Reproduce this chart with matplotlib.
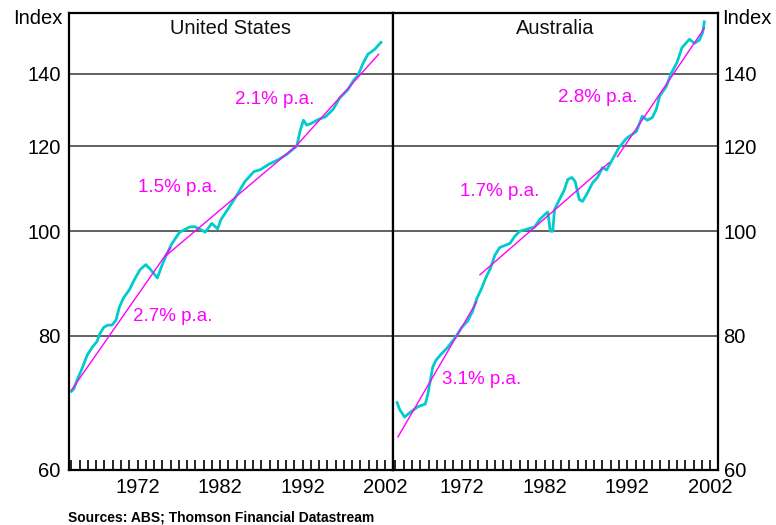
import numpy as np
import matplotlib
matplotlib.use("Agg")
import matplotlib.pyplot as plt
from matplotlib.ticker import FixedLocator, NullLocator, NullFormatter

plt.rcParams['font.family'] = ['Liberation Sans', 'DejaVu Sans']

# --- data (index, log scale) ---
us_year = [1964.0, 1964.3, 1964.7, 1965.3, 1965.9, 1966.5, 1967.1, 1967.4, 1967.9,
           1968.4, 1968.9, 1969.4, 1969.8, 1970.3, 1971.0, 1971.6, 1972.3, 1973.0,
           1973.6, 1974.4, 1974.9, 1975.4, 1976.1, 1977.1, 1978.3, 1978.9, 1979.5,
           1980.2, 1981.0, 1981.7, 1982.1, 1982.9, 1983.7, 1984.3, 1985.0, 1986.1,
           1986.9, 1987.9, 1989.1, 1990.1, 1990.5, 1991.3, 1991.7, 1992.1, 1992.5,
           1993.0, 1993.9, 1994.8, 1995.7, 1996.5, 1997.5, 1998.2, 1998.7, 1999.3,
           1999.9, 2000.7, 2001.5]
us_index = [71.0, 71.4, 72.8, 74.6, 76.7, 78.0, 79.0, 80.2, 81.4,
            81.8, 81.8, 82.7, 85.0, 86.7, 88.2, 90.1, 92.1, 93.1,
            92.1, 90.5, 92.7, 94.7, 97.2, 99.8, 100.9, 101.0, 100.5,
            99.8, 101.7, 100.5, 102.5, 104.7, 107.0, 108.9, 111.2, 113.6,
            114.1, 115.4, 116.6, 117.9, 118.6, 120.0, 124.0, 126.8, 125.5,
            125.9, 127.0, 127.8, 129.8, 133.0, 135.4, 138.2, 139.5, 143.1,
            146.0, 147.5, 149.8]

au_year = [1964.2, 1964.5, 1965.1, 1965.7, 1966.7, 1967.6, 1967.9, 1968.2, 1968.5,
           1968.9, 1969.4, 1970.3, 1971.2, 1972.0, 1972.7, 1973.3, 1973.8, 1974.4,
           1974.9, 1975.5, 1976.0, 1976.6, 1977.8, 1978.4, 1979.0, 1980.0, 1980.8,
           1981.4, 1982.0, 1982.4, 1982.7, 1983.0, 1983.2, 1983.8, 1984.4, 1984.8,
           1985.3, 1985.7, 1986.2, 1986.6, 1987.2, 1987.8, 1988.4, 1989.0, 1989.5,
           1990.2, 1991.0, 1991.9, 1993.1, 1993.8, 1994.4, 1995.0, 1995.5, 1995.9,
           1996.7, 1997.3, 1998.0, 1998.6, 1999.5, 2000.1, 2000.7, 2001.1, 2001.3]
au_index = [69.3, 68.3, 67.2, 67.8, 68.7, 69.1, 70.5, 72.6, 74.8,
            75.9, 76.7, 78.0, 79.6, 81.4, 82.5, 84.2, 86.5, 88.5,
            90.5, 92.5, 95.0, 96.6, 97.4, 98.9, 100.0, 100.5, 100.9,
            102.5, 103.6, 104.2, 100.0, 100.0, 104.7, 107.0, 109.3, 111.7,
            112.2, 111.2, 107.0, 106.6, 108.6, 110.9, 112.2, 114.6, 114.0,
            116.6, 119.6, 122.0, 123.8, 127.9, 126.8, 127.5, 129.8, 133.5,
            136.3, 140.2, 143.5, 148.1, 150.8, 149.5, 150.5, 153.0, 156.5]

# trend segments: (start year, end year, start index, end index)
us_trends = [(1964.0, 1976.0, 71.2, 96.5),
             (1975.3, 1991.2, 94.7, 120.0),
             (1991.0, 2001.2, 119.5, 146.0)]
au_trends = [(1964.3, 1973.8, 64.4, 86.0),
             (1974.2, 1989.8, 91.1, 115.8),
             (1990.8, 2001.3, 117.3, 154.4)]

# growth labels: (text, year, index)
us_labels = [("2.7% p.a.", 1971.4, 83.3), ("1.5% p.a.", 1972.1, 109.7),
             ("2.1% p.a.", 1983.8, 132.6)]
au_labels = [("3.1% p.a.", 1969.6, 72.8), ("1.7% p.a.", 1971.8, 108.8),
             ("2.8% p.a.", 1983.6, 133.1)]

grid_levels = [80, 100, 120, 140]
y_ticks = [60, 80, 100, 120, 140]
x_major = [1972, 1982, 1992, 2002]
x_minor = list(range(1964, 2003))

CYAN = "#00CCCC"
MAGENTA = "#FF00FF"

fig = plt.figure(figsize=(7.76, 5.25), dpi=100)
W, H = 776, 525
ax1 = fig.add_axes([69 / W, 1 - 470 / H, 324 / W, 457 / H])
ax2 = fig.add_axes([393 / W, 1 - 470 / H, 325 / W, 457 / H])

panels = [(ax1, "United States", us_year, us_index, us_trends, us_labels),
          (ax2, "Australia", au_year, au_index, au_trends, au_labels)]

for ax, title, yrs, vals, trends, labels in panels:
    ax.set_yscale("log")
    ax.set_xlim(1963.7, 2002.95)
    ax.set_ylim(60, 159.5)
    for g in grid_levels:
        ax.axhline(g, color="#555555", lw=1.3, zorder=1)
    ax.plot(yrs, vals, color=CYAN, lw=2.0, zorder=2)
    for x0, x1, y0, y1 in trends:
        ax.plot([x0, x1], [y0, y1], color=MAGENTA, lw=1.0, zorder=3)
    for txt, x, y in labels:
        ax.text(x, y, txt, color=MAGENTA, fontsize=13.5, va="center", ha="left")
    ax.text(0.5, 0.967, title, transform=ax.transAxes, ha="center", va="center",
            fontsize=14.5, color="#111111")

    ax.yaxis.set_major_locator(FixedLocator(y_ticks))
    ax.yaxis.set_major_formatter(matplotlib.ticker.FixedFormatter([str(t) for t in y_ticks]))
    ax.yaxis.set_minor_locator(NullLocator())
    ax.yaxis.set_minor_formatter(NullFormatter())
    ax.tick_params(axis="y", which="both", length=0, labelsize=14.5, pad=6)

    ax.xaxis.set_major_locator(FixedLocator(x_major))
    ax.xaxis.set_minor_locator(FixedLocator(x_minor))
    ax.tick_params(axis="x", which="both", direction="in", length=7, width=1.2,
                   labelsize=14.5, pad=6, top=False)
    for s in ax.spines.values():
        s.set_linewidth(1.6)
        s.set_color("black")

ax2.yaxis.tick_right()
ax2.tick_params(axis="y", which="both", length=0, pad=4)

fig.text(13 / W, 1 - 18 / H, "Index", fontsize=14.5, ha="left", va="center")
fig.text(722 / W, 1 - 18 / H, "Index", fontsize=14.5, ha="left", va="center")
fig.text(68 / W, 1 - 517 / H, "Sources: ABS; Thomson Financial Datastream",
         fontsize=10, fontweight="bold", ha="left", va="center")

fig.savefig("out.png", dpi=100)
